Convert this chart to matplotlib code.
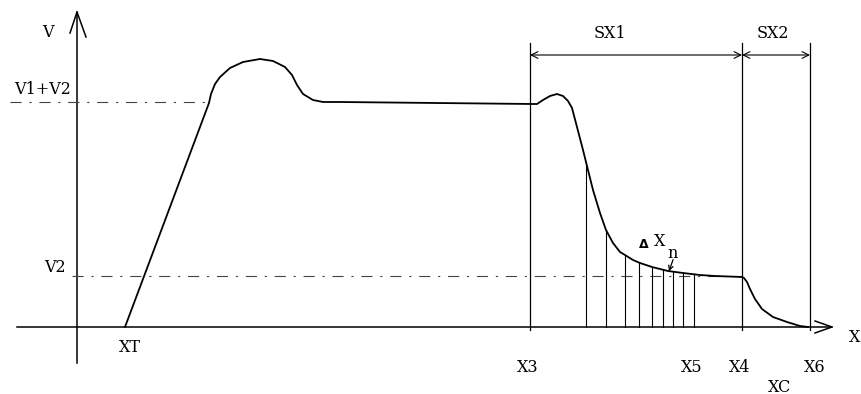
import numpy as np
import matplotlib
matplotlib.use("Agg")
import matplotlib.pyplot as plt

# ---- data (abstract units: x = position, y = velocity) ----
curve_x = [48, 132, 134, 138, 143, 153, 166, 183, 196, 208, 215, 220, 226, 236, 246, 263,
           456, 460, 466, 473, 480, 486, 491, 495, 500, 506, 511, 516, 523, 529, 536,
           543, 548, 556, 563, 575, 591, 606, 623, 638, 665,
           667, 670, 673, 678, 685, 696, 710, 723, 731]
curve_y = [0, 224, 233, 243, 250, 259, 265, 268, 266, 260, 252, 242, 233, 227, 225, 225,
           223, 223, 227, 231, 233, 231, 226, 219, 200, 177, 157, 137, 114, 97, 84,
           75, 72, 67, 64, 60, 56, 54, 52, 51, 50,
           49, 45, 38, 28, 18, 10, 5, 1, 0]
V12 = 225   # V1+V2
V2 = 51
X3, X4, X6 = 453, 665, 733
hatch_x = [509, 529, 548, 562, 575, 586, 596, 606, 617]
bracket_top = 284
bracket_y = 272

FONT = ["DejaVu Serif"]
fig = plt.figure(figsize=(8.61, 3.94), dpi=100)
ax = fig.add_axes([0, 0, 1, 1])
ax.set_xlim(-77, 784)
ax.set_ylim(-67, 327)
ax.axis("off")

lw = 1.1
# axes
ax.plot([-60, 755], [0, 0], color="k", lw=lw)
ax.plot([0, 0], [-36, 315], color="k", lw=lw)
ax.plot([-7, 0, 9], [294, 315, 290], color="k", lw=lw)
ax.plot([738, 755, 738], [6, 0, -6], color="k", lw=lw)

# reference dashed levels
dash = (0, (10, 7, 2, 7))
ax.plot([-67, 0, 133], [V12, V12, V12], color="#444", lw=0.8, ls=dash)
ax.plot([-5, X4], [V2, V2], color="#444", lw=0.8, ls=dash)

# curve
ax.plot(curve_x, curve_y, color="k", lw=1.3, solid_joinstyle="round")

# hatch lines
cx = np.array(curve_x[16:41]); cy = np.array(curve_y[16:41])
for hx in hatch_x:
    ax.plot([hx, hx], [0, np.interp(hx, cx, cy)], color="k", lw=0.8)

# vertical markers
for xv in (X3, X4, X6):
    ax.plot([xv, xv], [-3, bracket_top], color="k", lw=0.9)

# dimension arrows
ap = dict(arrowstyle="<->", color="k", lw=0.8, mutation_scale=12, shrinkA=0, shrinkB=0)
ax.annotate("", xy=(X3, bracket_y), xytext=(X4, bracket_y), arrowprops=ap)
ax.annotate("", xy=(X4, bracket_y), xytext=(X6, bracket_y), arrowprops=ap)

# Δx arrow
ax.annotate("", xy=(591, 53), xytext=(597, 70),
            arrowprops=dict(arrowstyle="->", color="k", lw=0.9, mutation_scale=8))

fs = 11.5
def t(x, y, s, ha="center"):
    ax.text(x, y, s, fontsize=fs, family=FONT, ha=ha, va="center")

t(-29, 295, "V")
t(-34, 237, "V1+V2")
t(-22, 59, "V2")
t(53, -21, "XT")
t(451, -40, "X3")
t(615, -40, "X5")
t(663, -40, "X4")
t(738, -40, "X6")
t(703, -60, "XC")
t(783, -11, "X", ha="right")
t(533, 294, "SX1")
t(696, 294, "SX2")
ax.text(567, 83, "Δ", fontsize=9, family=["DejaVu Sans"], fontweight="bold", ha="center", va="center")
t(583, 86, "X")
t(596, 73, "n")

fig.savefig("out.png", dpi=100)
